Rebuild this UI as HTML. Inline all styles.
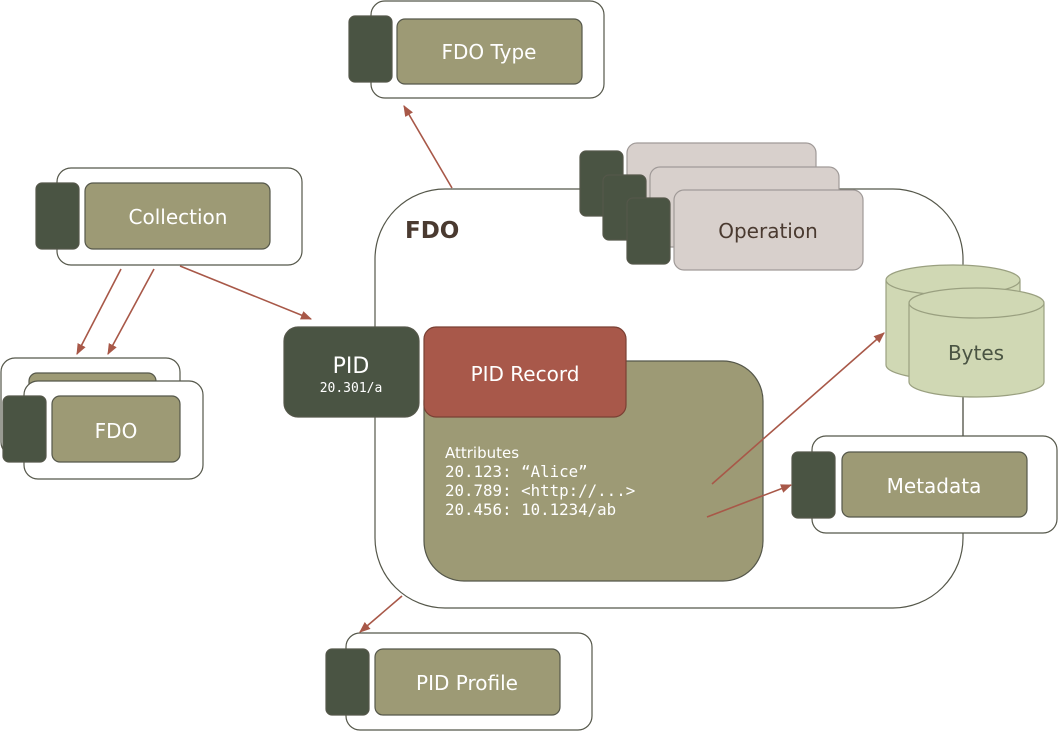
<!DOCTYPE html>
<html><head><meta charset="utf-8"><style>body{margin:0;background:#fff}svg{display:block}</style></head><body>
<svg width="1058" height="731" viewBox="0 0 1058 731" xmlns="http://www.w3.org/2000/svg" font-family="DejaVu Sans, Liberation Sans, sans-serif">
<defs><marker id="a" viewBox="0 0 10 10" refX="9" refY="5" markerWidth="7" markerHeight="7" orient="auto"><path d="M0,1 L10,5 L0,9 z" fill="#a85848"/></marker></defs>
<g stroke="#55574a" stroke-width="1.2">
<rect x="375" y="189" width="588" height="419" rx="70" fill="#fff"/>
<rect x="371" y="1" width="233" height="97" rx="14" fill="#fff"/>
<rect x="349" y="16" width="43" height="66" rx="6" fill="#4a5443"/>
<rect x="397" y="19" width="185" height="65" rx="8" fill="#9d9a75"/>
<rect x="57" y="168" width="245" height="97" rx="14" fill="#fff"/>
<rect x="36" y="183" width="43" height="66" rx="6" fill="#4a5443"/>
<rect x="85" y="183" width="185" height="66" rx="8" fill="#9d9a75"/>
<rect x="1" y="358" width="179" height="98" rx="14" fill="#fff"/>
<rect x="29" y="373" width="127" height="40" rx="8" fill="#9d9a75"/>
<rect x="24" y="381" width="179" height="98" rx="14" fill="#fff"/>
<rect x="3" y="396" width="43" height="66" rx="6" fill="#4a5443"/>
<rect x="52" y="396" width="128" height="66" rx="8" fill="#9d9a75"/>
<rect x="580" y="151" width="43" height="65" rx="6" fill="#4a5443"/>
<rect x="627" y="143" width="189" height="80" rx="10" fill="#d8d0cc" stroke="#a09a98"/>
<rect x="603" y="175" width="43" height="65" rx="6" fill="#4a5443"/>
<rect x="650" y="167" width="189" height="80" rx="10" fill="#d8d0cc" stroke="#a09a98"/>
<rect x="627" y="198" width="43" height="66" rx="6" fill="#4a5443"/>
<rect x="674" y="190" width="189" height="80" rx="10" fill="#d8d0cc" stroke="#a09a98"/>
<line x1="963" y1="397" x2="963" y2="436"/>
<path d="M886,280 L886,365 A67,15 0 0 0 1020,365 L1020,280 A67,15 0 0 0 886,280 A67,15 0 0 0 1020,280" fill="#d0d8b4" stroke="#9aa080"/>
<path d="M909,303 L909,382 A67.5,15 0 0 0 1044,382 L1044,303 A67.5,15 0 0 0 909,303 A67.5,15 0 0 0 1044,303" fill="#d0d8b4" stroke="#9aa080"/>
<rect x="424" y="361" width="339" height="220" rx="40" fill="#9d9a75"/>
<rect x="424" y="327" width="202" height="90" rx="12" fill="#a8584a" stroke="#7a4034"/>
<rect x="284" y="327" width="135" height="90" rx="14" fill="#4a5443"/>
<rect x="812" y="436" width="245" height="97" rx="14" fill="#fff"/>
<rect x="792" y="452" width="43" height="66" rx="6" fill="#4a5443"/>
<rect x="842" y="452" width="185" height="65" rx="8" fill="#9d9a75"/>
<rect x="346" y="633" width="246" height="97" rx="14" fill="#fff"/>
<rect x="326" y="649" width="43" height="66" rx="6" fill="#4a5443"/>
<rect x="375" y="649" width="185" height="66" rx="8" fill="#9d9a75"/>
</g>
<g stroke="#a85848" stroke-width="1.6" marker-end="url(#a)">
<line x1="452" y1="188" x2="404" y2="106"/>
<line x1="121" y1="269" x2="77" y2="354"/>
<line x1="154" y1="269" x2="108" y2="354"/>
<line x1="180" y1="266" x2="311" y2="319"/>
<line x1="712" y1="484" x2="884" y2="333"/>
<line x1="707" y1="517" x2="791" y2="485"/>
<line x1="402" y1="596" x2="360" y2="632"/>
</g>
<g fill="#fff" font-size="20" text-anchor="middle">
<text x="489" y="59">FDO Type</text>
<text x="178" y="224">Collection</text>
<text x="116" y="438">FDO</text>
<text x="525" y="381">PID Record</text>
<text x="934" y="493">Metadata</text>
<text x="467" y="690">PID Profile</text>
<text x="351" y="373" font-size="22">PID</text>
<text x="351" y="392" font-size="13" font-family="DejaVu Sans Mono, Liberation Mono, monospace">20.301/a</text>
</g>
<text x="768" y="238" font-size="20" fill="#4a3a30" text-anchor="middle">Operation</text>
<text x="976" y="360" font-size="20" fill="#4a5443" text-anchor="middle">Bytes</text>
<text x="405" y="238" font-size="23" font-weight="bold" fill="#4a3a30">FDO</text>
<g fill="#fff" font-size="15">
<text x="445" y="458">Attributes</text>
<g font-family="DejaVu Sans Mono, Liberation Mono, monospace" font-size="15.8">
<text x="445" y="477">20.123: “Alice”</text>
<text x="445" y="496">20.789: &lt;http://...&gt;</text>
<text x="445" y="515">20.456: 10.1234/ab</text>
</g></g>
</svg>
</body></html>
